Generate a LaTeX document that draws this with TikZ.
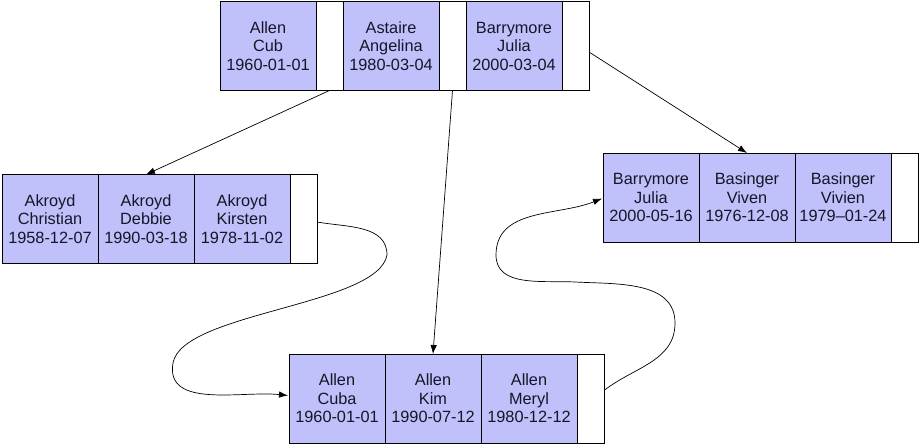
\documentclass[tikz,border=0pt]{standalone}
\usepackage{fontspec}
\setmainfont{Liberation Sans}
\usetikzlibrary{positioning,arrows.meta,calc}
\definecolor{cellfill}{RGB}{192,192,250}
\definecolor{txt}{RGB}{22,22,40}
\tikzset{
  rec/.style={draw=black, line width=0.9pt, fill=cellfill, minimum width=96pt, minimum height=89pt,
    inner sep=0pt, outer sep=0pt, align=center, font=\fontsize{16.3}{18.5}\selectfont, text=txt},
  ptr/.style={draw=black, line width=0.9pt, fill=white, minimum width=27pt, minimum height=89pt,
    inner sep=0pt, outer sep=0pt},
  link/.style={draw=black, line width=0.7pt, -{Latex[length=9pt,width=6.5pt]}},
}
\begin{document}
\begin{tikzpicture}[x=1pt,y=1pt]
\useasboundingbox (0,0) rectangle (919,445);
% top node
\node[rec, anchor=west] (t1) at (220,399) {Allen\\Cub\\1960-01-01};
\node[ptr, right=0pt of t1] (t1p) {};
\node[rec, right=0pt of t1p] (t2) {Astaire\\Angelina\\1980-03-04};
\node[ptr, right=0pt of t2] (t2p) {};
\node[rec, right=0pt of t2p] (t3) {Barrymore\\Julia\\2000-03-04};
\node[ptr, right=0pt of t3] (t3p) {};
% left node
\node[rec, anchor=west] (l1) at (2,226) {Akroyd\\Christian\\1958-12-07};
\node[rec, right=0pt of l1] (l2) {Akroyd\\Debbie\\1990-03-18};
\node[rec, right=0pt of l2] (l3) {Akroyd\\Kirsten\\1978-11-02};
\node[ptr, right=0pt of l3] (lp) {};
% right node
\node[rec, anchor=west] (r1) at (603,247.5) {Barrymore\\Julia\\2000-05-16};
\node[rec, right=0pt of r1] (r2) {Basinger\\Viven\\1976-12-08};
\node[rec, right=0pt of r2] (r3) {Basinger\\Vivien\\1979–01-24};
\node[ptr, right=0pt of r3] (rp) {};
% bottom node
\node[rec, anchor=west] (b1) at (289,46.5) {Allen\\Cuba\\1960-01-01};
\node[rec, right=0pt of b1] (b2) {Allen\\Kim\\1990-07-12};
\node[rec, right=0pt of b2] (b3) {Allen\\Meryl\\1980-12-12};
\node[ptr, right=0pt of b3] (bp) {};
% straight links
\draw[link] (t1p.south) -- (l2.north);
\draw[link] (t2p.south) -- (b2.north);
\draw[link] ($(t3p.east)+(0,-6)$) -- (r2.north);
% curved links
\coordinate (c1a) at (387,190);
\coordinate (c1b) at (173,82);
\draw[link] ($(lp.east)+(0,-3)$) to[out=-10,in=90] (c1a)
  to[out=-100,in=80,looseness=0.55] (c1b)
  to[out=-100,in=174] ($(b1.west)+(-1,3)$);
\coordinate (c2a) at (675,122);
\coordinate (c2b) at (575,163);
\coordinate (c2c) at (496,190);
\draw[link] ($(bp.east)+(0,8)$) to[out=38,in=-90] (c2a)
  to[out=90,in=-3] (c2b)
  to[out=177,in=-90] (c2c)
  to[out=90,in=-158] ($(r1.west)+(-1,-1)$);
\end{tikzpicture}
\end{document}
